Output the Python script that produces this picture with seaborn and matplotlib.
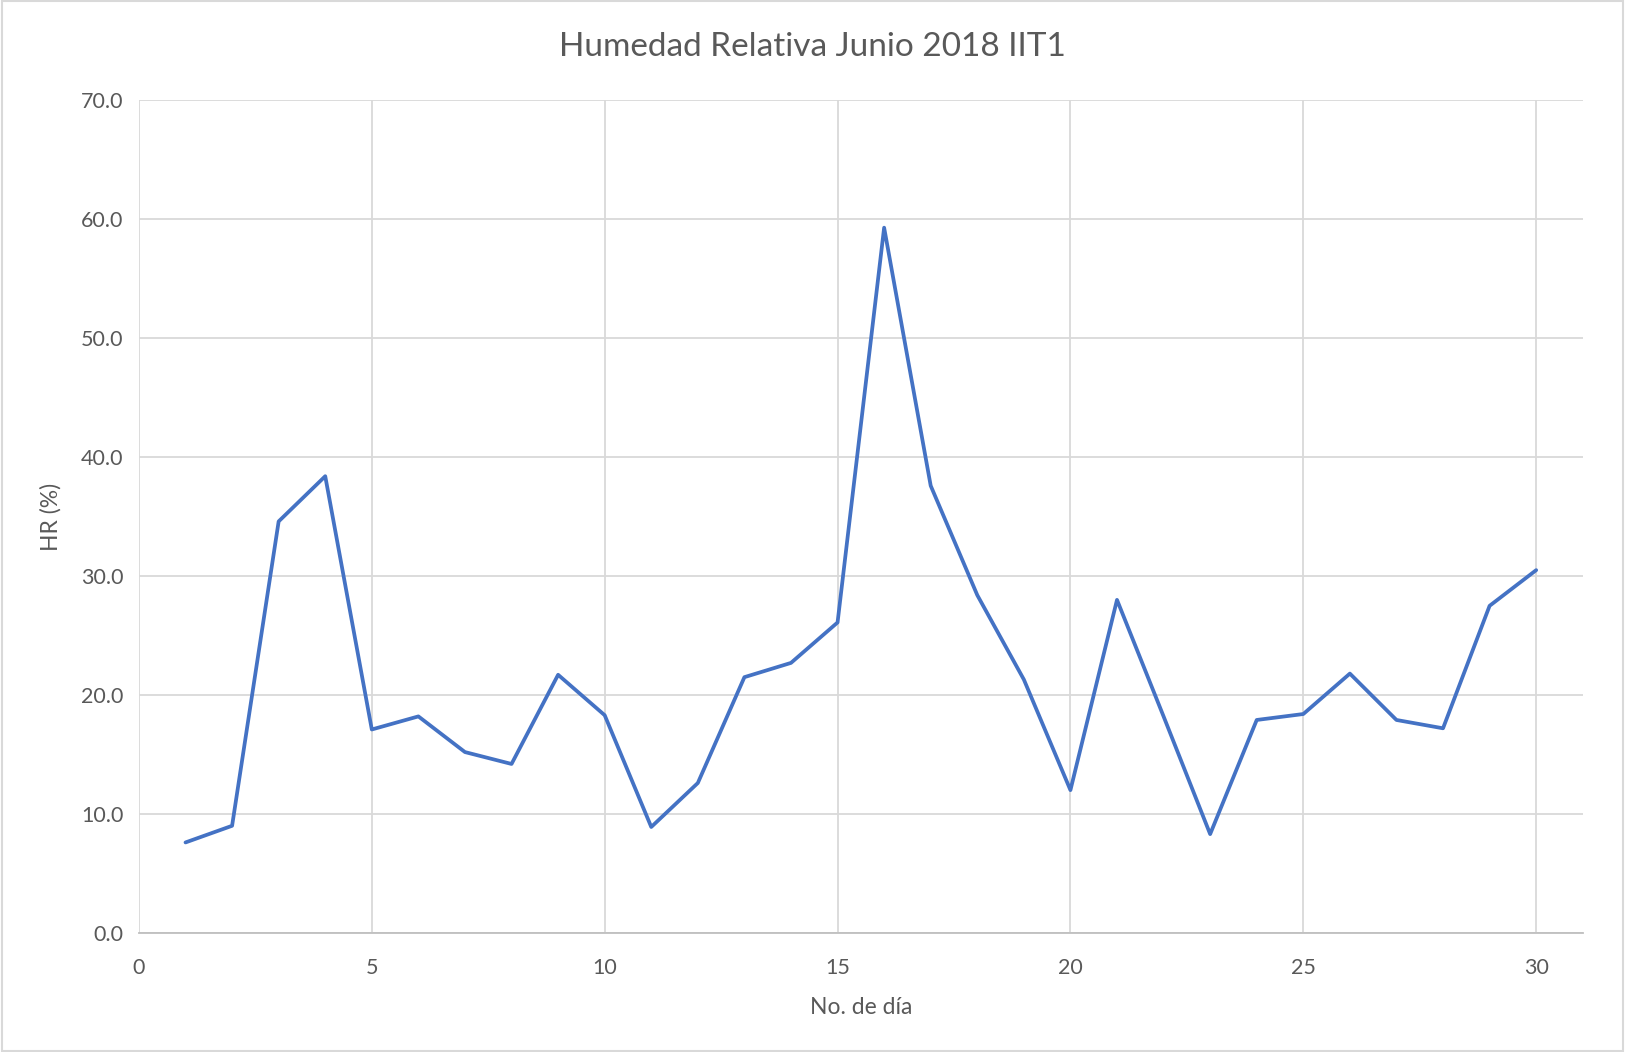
import numpy as np
import pandas as pd
import seaborn as sns
import matplotlib.pyplot as plt
from matplotlib.patches import Rectangle

# data
dias = list(range(1, 31))
hr = [7.6, 9.0, 34.6, 38.4, 17.1, 18.2, 15.2, 14.2, 21.7, 18.3,
      8.9, 12.6, 21.5, 22.7, 26.1, 59.3, 37.6, 28.4, 21.3, 12.0,
      28.0, 18.2, 8.3, 17.9, 18.4, 21.8, 17.9, 17.2, 27.5, 30.5]
x_ticks = [0, 5, 10, 15, 20, 25, 30]
y_ticks = [0, 10, 20, 30, 40, 50, 60, 70]

df = pd.DataFrame({'dia': dias, 'hr': hr})

sns.set_style('white')
plt.rcParams['font.family'] = ['Lato', 'DejaVu Sans']
text_col = '#595959'
grid_col = '#d9d9d9'

fig = plt.figure(figsize=(16.25, 10.52), dpi=100)
ax = fig.add_axes([0.0855, 0.1133, 0.8885, 0.7912])

sns.lineplot(data=df, x='dia', y='hr', ax=ax, color='#4472C4', linewidth=2.7)

ax.set_xlim(0, 31)
ax.set_ylim(0, 70)
ax.set_xticks(x_ticks)
ax.set_yticks(y_ticks)
ax.set_yticklabels([f'{v:.1f}' for v in y_ticks])
ax.grid(True, color=grid_col, linewidth=1.3)
ax.set_axisbelow(True)
for s in ['top', 'right', 'left']:
    ax.spines[s].set_visible(False)
ax.spines['bottom'].set_color('#bfbfbf')
ax.spines['bottom'].set_linewidth(1.3)
ax.tick_params(axis='both', length=0, labelsize=15.5, labelcolor=text_col)
ax.tick_params(axis='x', pad=18)
ax.tick_params(axis='y', pad=11)

ax.set_xlabel('No. de día', fontsize=16.5, color=text_col, labelpad=14)
ax.set_ylabel('HR (%)', fontsize=16.5, color=text_col, labelpad=14)
fig.suptitle('Humedad Relativa Junio 2018 IIT1', fontsize=24, color=text_col, y=0.97)

# thin border round the chart area
fig.patches.append(Rectangle((0.001, 0.001), 0.998, 0.998, transform=fig.transFigure,
                             fill=False, edgecolor='#d9d9d9', linewidth=1.5))

fig.savefig('out.png', dpi=100)
